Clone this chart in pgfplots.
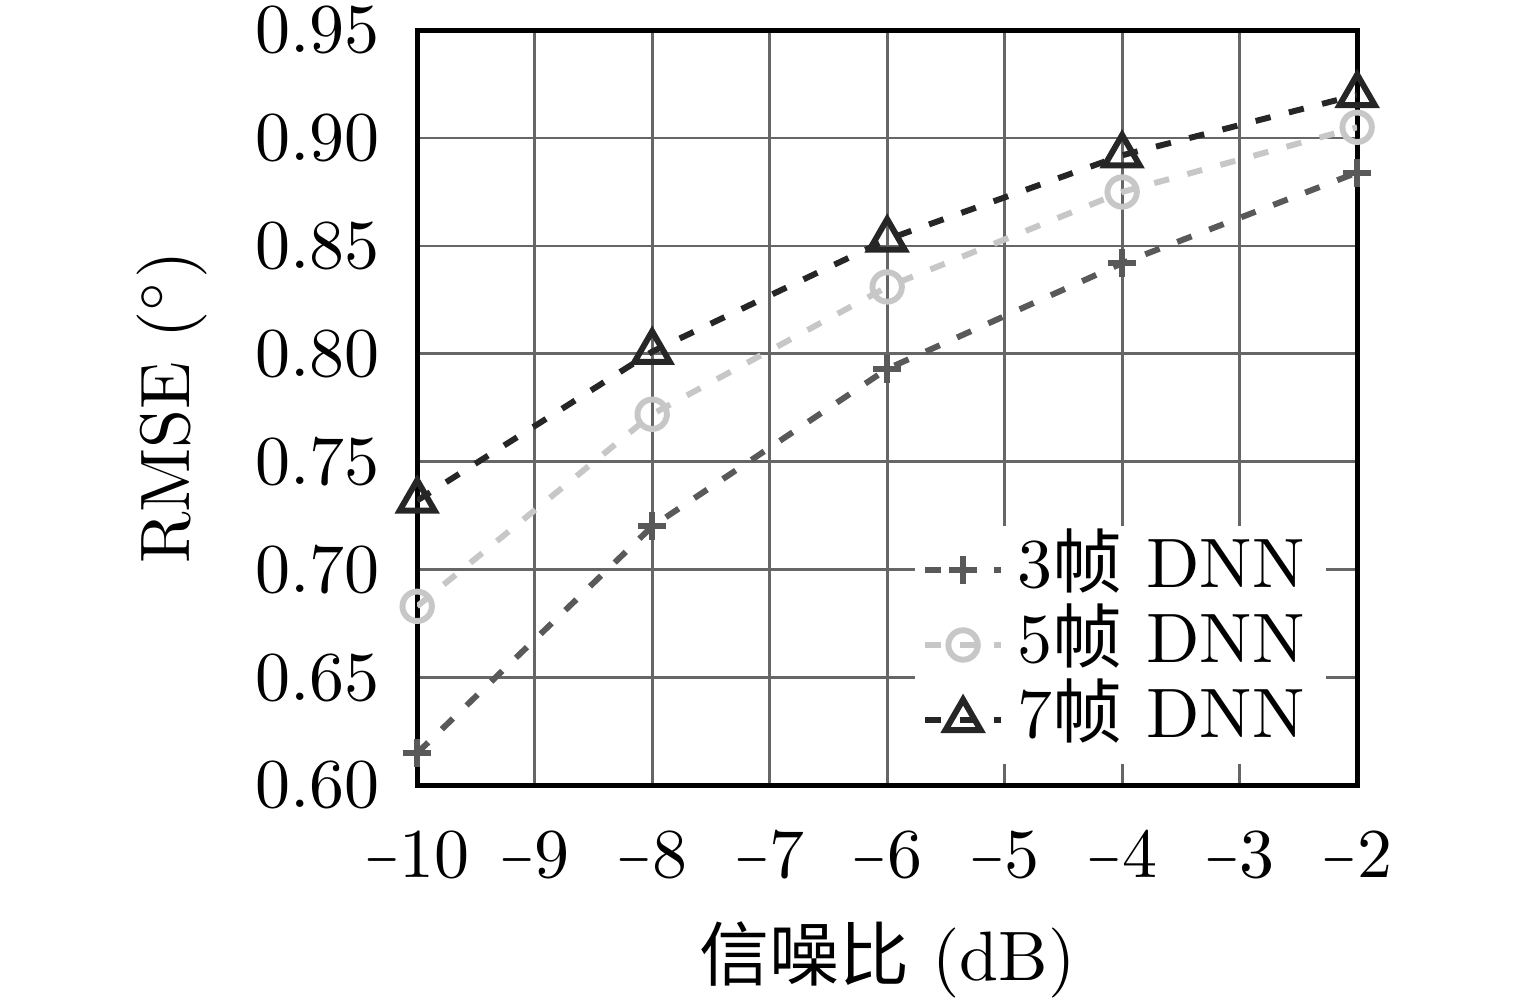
\documentclass[border=0pt]{standalone}
\usepackage{pgfplots}
\pgfplotsset{compat=1.18}
\usepackage{graphicx}
\usepackage{fontspec}
\newfontfamily\cjk{Noto Sans CJK SC}
\newcommand\mm{$\scalebox{0.65}[1]{$-$}$}
\definecolor{cA}{gray}{0.35}
\definecolor{cB}{gray}{0.78}
\definecolor{cC}{gray}{0.15}
\begin{document}
\begin{tikzpicture}
\useasboundingbox (-59.6pt,-30.6pt) rectangle (159.7pt,112.2pt);
\begin{axis}[
  name=ax,
  at={(0,0)}, anchor=south west,
  scale only axis,
  width=134.3pt, height=107.9pt,
  xmin=-10, xmax=-2, ymin=0.6, ymax=0.95,
  xtick={-10,-9,-8,-7,-6,-5,-4,-3,-2},
  xticklabels={\mm10,\mm9,\mm8,\mm7,\mm6,\mm5,\mm4,\mm3,\mm2},
  ytick={0.6,0.65,0.7,0.75,0.8,0.85,0.9,0.95},
  yticklabel style={/pgf/number format/fixed,/pgf/number format/fixed zerofill,/pgf/number format/precision=2, xshift=-1.8pt},
  xticklabel style={yshift=-2.9pt},
  xlabel style={yshift=1.4pt},
  grid=major,
  major grid style={black!60, line width=0.4pt},
  axis line style={line width=0.7pt},
  tick style={draw=none},
  xlabel={{\cjk 信噪比} (dB)},
  ylabel={RMSE ($^\circ$)},
  legend style={at={(0.968,0.026)}, anchor=south east, draw=none, fill=white, inner sep=1pt,
    nodes={text height=7.3pt, text depth=2.2pt, inner ysep=0.6pt}},
  legend cell align=left,
  legend image code/.code={\draw[mark repeat=2,mark phase=2] plot coordinates {(0cm,0cm)(0.19cm,0cm)(0.38cm,0cm)};},
  every axis plot/.append style={line width=0.85pt, dash pattern=on 2.2pt off 2.7pt},
]
\addplot[cA, mark=+, mark size=2pt, mark options={solid, line width=0.85pt}] coordinates {
  (-10,0.615) (-8,0.720) (-6,0.793) (-4,0.842) (-2,0.884)
};
\addlegendentry{3{\cjk 帧} DNN}
\addplot[cB, mark=o, mark size=2.1pt, mark options={solid, line width=0.85pt}] coordinates {
  (-10,0.683) (-8,0.772) (-6,0.831) (-4,0.875) (-2,0.905)
};
\addlegendentry{5{\cjk 帧} DNN}
\addplot[cC, mark=triangle, mark size=2.9pt, mark options={solid, line width=0.85pt}] coordinates {
  (-10,0.732) (-8,0.801) (-6,0.853) (-4,0.892) (-2,0.920)
};
\addlegendentry{7{\cjk 帧} DNN}
\end{axis}
\end{tikzpicture}
\end{document}
